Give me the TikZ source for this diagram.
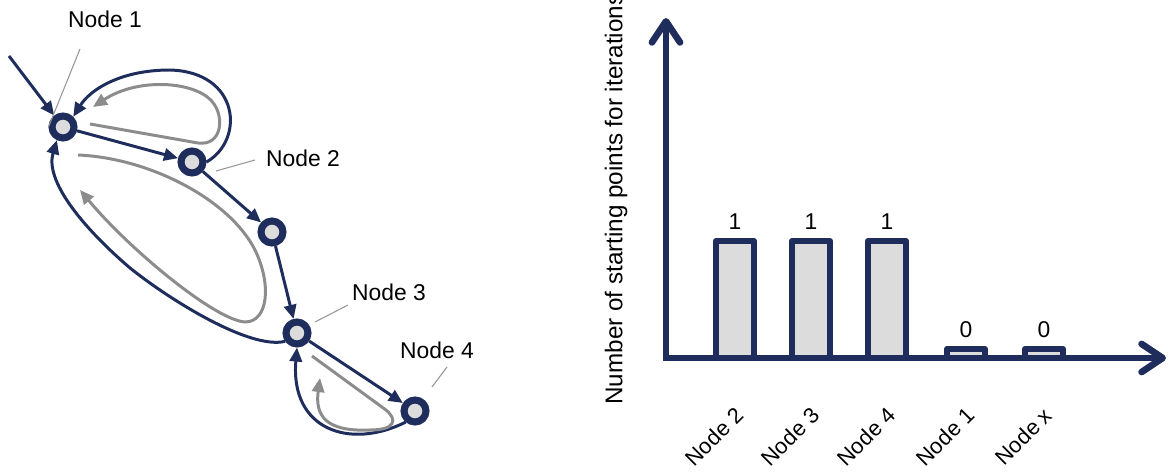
\documentclass[tikz,border=0pt]{standalone}
\usepackage{fontspec}
\setmainfont{Liberation Sans}
\usepackage{xcolor}
\usetikzlibrary{arrows.meta}
\definecolor{navy}{RGB}{31,45,92}
\definecolor{barfill}{RGB}{220,220,220}
\definecolor{loopgray}{RGB}{140,140,140}
\definecolor{leadgray}{RGB}{150,150,150}
\tikzset{
  state/.style={circle,draw=navy,line width=4pt,fill=barfill,minimum size=12.5pt,inner sep=0pt},
  flow/.style={navy,line width=1.7pt,-{Triangle[length=8pt,width=7pt]}},
  back/.style={loopgray,line width=1.7pt,-{Triangle[length=8pt,width=7pt]}},
  leader/.style={leadgray,line width=0.6pt},
  axis/.style={navy,line width=3.8pt,line join=miter,
    {Straight Barb[length=12pt,width=16pt,round]}-{Straight Barb[length=12pt,width=16pt,round]}},
  bar/.style={draw=navy,fill=barfill,line width=3.4pt,line join=round}
}

\begin{document}
\begin{tikzpicture}[x=0.02cm,y=-0.02cm,every node/.style={font=\fontsize{13}{15}\selectfont}]
  \useasboundingbox (0,0) rectangle (1173,473);
  % walk through the states
  \node[state] (n1) at (63,127) {};
  \node[state] (n2) at (192,162) {};
  \node[state] (nx) at (272,232) {};
  \node[state] (n3) at (297,333) {};
  \node[state] (n4) at (415,411) {};
  \coordinate (in) at (9,56);
  \draw[flow] (in) -- (n1);
  \draw[flow] (n1) -- (n2);
  \draw[flow] (n2) -- (nx);
  \draw[flow] (nx) -- (n3);
  \draw[flow] (n3) -- (n4);
  % jumps back
  \draw[flow] (n2.east) .. controls (245,140) and (240,72) .. (170,70)
    .. controls (120,70) and (90,90) .. (n1.north east);
  \draw[flow] (n3.215) .. controls (250,350) and (170,300) .. (130,268)
    .. controls (80,225) and (45,180) .. (n1.-115);
  \draw[flow] (n4.-130) .. controls (350,450) and (290,430) .. (n3.south);
  % gray iteration loops
  \coordinate (ga) at (90,124);  \coordinate (gb) at (93,107);
  \draw[back] (ga) -- (198,143) .. controls (222,146) and (224,118) .. (214,104)
    .. controls (200,82) and (140,76) .. (gb);
  \coordinate (gc) at (78,155);  \coordinate (gd) at (80,190);
  \draw[back] (gc) .. controls (150,158) and (230,200) .. (255,250)
    .. controls (272,285) and (268,322) .. (245,322)
    .. controls (215,320) and (130,250) .. (gd);
  \coordinate (ge) at (312,356); \coordinate (gf) at (320,378);
  \draw[back] (ge) -- (386,410) .. controls (398,420) and (395,430) .. (370,430)
    .. controls (325,432) and (315,415) .. (gf);
  % labels
  \node (l1) at (105,19) {Node 1};
  \node (l2) at (303,158) {Node 2};
  \node (l3) at (389,292) {Node 3};
  \node (l4) at (437,350) {Node 4};
  \coordinate (t1) at (80,49);   \draw[leader] (t1) -- (n1.west);
  \coordinate (t2) at (255,160); \coordinate (h2) at (216,171); \draw[leader] (t2) -- (h2);
  \coordinate (t3) at (348,305); \coordinate (h3) at (315,322); \draw[leader] (t3) -- (h3);
  \coordinate (t4) at (447,367); \coordinate (h4) at (432,387); \draw[leader] (t4) -- (h4);

  % bar chart
  \foreach \c/\t/\v/\name in {735/241/1/Node 2,811/241/1/Node 3,887/241/1/Node 4,
      966/349/0/Node 1,1044/349/0/Node x}{
    \draw[bar] (\c-19,358) rectangle (\c+19,\t);
    \node (v\c) at (\c,\t-19) {\v};
    \node[rotate=45,anchor=base east,inner sep=0pt,font=\fontsize{12.5}{14}\selectfont]
      (x\c) at (\c+10,417) {\name};
  }
  \draw[axis] (666,18) -- (666,358) -- (1166,358);
  \node[rotate=90,anchor=west,inner sep=0pt,font=\fontsize{13.8}{16}\selectfont] (ylab)
    at (616,405) {Number of starting points for iterations};
\end{tikzpicture}
\end{document}
